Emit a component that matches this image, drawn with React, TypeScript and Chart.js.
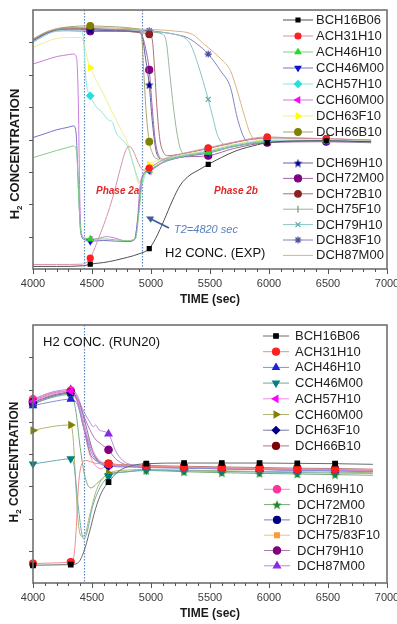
import React, { useEffect, useRef } from 'react';
import { Chart, registerables } from 'chart.js';
import { drawPoint } from 'chart.js/helpers';

Chart.register(...registerables);

const FONT = '"Liberation Sans", Arial, Helvetica, sans-serif';

// ---------- shared axis values ----------
const X_MIN = 4000;
const X_MAX = 7000;
const X_TICK_LABELS = [4000, 4500, 5000, 5500, 6000, 6500, 7000];
const Y_MIN = 0;
const Y_MAX = 8;

// ---------- TOP PANEL (experiment) ----------
const TOP_MARK_X = [4485, 4985, 5485, 5985, 6485];
const TOP_PHASE_LINES = [4430, 4925];
const TOP_NAMES = ['BCH16B06', 'ACH31H10', 'ACH46H10', 'CCH46M00', 'ACH57H10', 'CCH60M00', 'DCH63F10', 'DCH66B10',
  'DCH69H10', 'DCH72M00', 'DCH72B10', 'DCH75F10', 'DCH79H10', 'DCH83F10', 'DCH87M00'];

const T_BCH16B06: [number, number][] = [[4000,0.08],[4200,0.08],[4430,0.1],[4485,0.15],[4600,0.2],[4700,0.27],[4800,0.36],[4900,0.47],[4985,0.63],[5040,0.95],[5110,1.5],[5180,2.1],[5250,2.6],[5330,2.9],[5400,3.05],[5485,3.23],[5600,3.45],[5720,3.65],[5820,3.76],[5985,3.9],[6200,3.95],[6485,3.96],[6865,3.93]];
const T_ACH31H10: [number, number][] = [[4000,0.14],[4200,0.14],[4420,0.15],[4485,0.34],[4540,0.8],[4600,1.37],[4650,1.9],[4690,2.4],[4740,3.1],[4790,3.7],[4820,3.78],[4850,3.65],[4890,3.3],[4935,3.05],[4985,3.12],[5100,3.38],[5250,3.55],[5485,3.74],[5700,3.92],[5985,4.08],[6200,4.05],[6485,4.03],[6865,3.98]];
const T_ACH46H10: [number, number][] = [[4000,3.44],[4100,3.55],[4200,3.66],[4300,3.76],[4345,3.8],[4370,3.6],[4390,2.0],[4410,1.05],[4440,0.95],[4485,0.92],[4600,0.93],[4700,0.9],[4800,0.88],[4870,0.95],[4900,1.8],[4930,2.8],[4985,3.05],[5100,3.3],[5250,3.47],[5485,3.6],[5700,3.78],[5985,3.93],[6485,3.95],[6865,3.92]];
const T_CCH46M00: [number, number][] = [[4000,4.06],[4100,4.18],[4200,4.3],[4300,4.38],[4345,4.42],[4365,4.2],[4385,2.5],[4405,1.1],[4440,0.9],[4485,0.86],[4600,0.88],[4700,0.86],[4800,0.85],[4860,0.92],[4890,1.6],[4920,2.7],[4950,3.0],[4985,3.05],[5100,3.3],[5250,3.45],[5485,3.58],[5700,3.78],[5985,3.92],[6485,3.95],[6865,3.92]];
const T_ACH57H10: [number, number][] = [[4000,7.0],[4100,7.22],[4200,7.35],[4300,7.38],[4400,7.38],[4425,7.2],[4450,5.8],[4485,5.35],[4520,5.1],[4541,4.98],[4570,4.9],[4598,4.78],[4640,4.6],[4670,4.55],[4711,4.16],[4740,4.05],[4768,3.95],[4800,3.8],[4824,3.54],[4860,3.1],[4900,2.7],[4920,2.62],[4960,3.0],[4985,3.1],[5100,3.35],[5250,3.5],[5485,3.63],[5700,3.82],[5985,3.96],[6485,3.97],[6865,3.94]];
const T_CCH60M00: [number, number][] = [[4000,6.33],[4100,6.45],[4200,6.56],[4300,6.62],[4345,6.64],[4370,6.5],[4385,5.0],[4395,2.5],[4410,1.1],[4440,0.95],[4485,0.91],[4560,0.95],[4620,1.0],[4700,0.95],[4800,0.85],[4860,0.9],[4885,1.5],[4905,2.5],[4930,2.9],[4985,3.02],[5100,3.28],[5250,3.45],[5485,3.6],[5700,3.8],[5985,3.94],[6485,3.96],[6865,3.93]];
const T_DCH63F10: [number, number][] = [[4000,6.84],[4100,7.0],[4200,7.12],[4300,7.15],[4400,7.15],[4430,7.0],[4460,6.5],[4485,6.22],[4540,5.8],[4598,5.4],[4650,5.0],[4711,4.57],[4760,4.2],[4796,3.95],[4853,3.23],[4895,2.65],[4920,2.7],[4950,3.1],[4985,3.23],[5100,3.4],[5250,3.52],[5485,3.66],[5700,3.85],[5985,3.98],[6485,3.99],[6865,3.95]];
const T_DCH66B10: [number, number][] = [[4000,7.1],[4100,7.3],[4200,7.42],[4300,7.48],[4485,7.51],[4700,7.48],[4880,7.42],[4920,7.2],[4940,6.0],[4960,4.8],[4985,3.93],[5010,3.6],[5040,3.42],[5100,3.38],[5250,3.5],[5485,3.65],[5700,3.83],[5985,3.96],[6485,3.97],[6865,3.94]];
const T_DCH69H10: [number, number][] = [[4000,7.05],[4100,7.25],[4200,7.37],[4300,7.4],[4485,7.38],[4700,7.36],[4900,7.32],[4930,7.1],[4950,6.6],[4985,5.69],[5010,4.6],[5040,3.7],[5070,3.42],[5110,3.36],[5250,3.5],[5485,3.62],[5700,3.8],[5985,3.95],[6485,3.96],[6865,3.93]];
const T_DCH72M00: [number, number][] = [[4000,7.0],[4100,7.22],[4200,7.35],[4300,7.36],[4485,7.34],[4700,7.34],[4900,7.33],[4935,7.1],[4955,6.8],[4985,6.15],[5010,5.0],[5035,4.0],[5060,3.55],[5100,3.4],[5250,3.46],[5485,3.5],[5700,3.72],[5985,3.9],[6485,3.93],[6865,3.9]];
const T_DCH72B10: [number, number][] = [[4000,7.08],[4100,7.28],[4200,7.4],[4300,7.44],[4485,7.42],[4700,7.38],[4900,7.3],[4985,7.25],[5010,7.1],[5030,6.2],[5050,5.0],[5075,4.0],[5100,3.65],[5140,3.5],[5250,3.55],[5485,3.72],[5700,3.9],[5985,4.05],[6485,4.02],[6865,3.98]];
const T_DCH75F10: [number, number][] = [[4000,7.05],[4100,7.25],[4200,7.37],[4300,7.4],[4485,7.4],[4700,7.38],[4985,7.32],[5100,7.25],[5130,7.0],[5160,6.0],[5190,5.0],[5220,4.2],[5250,3.7],[5300,3.55],[5485,3.62],[5700,3.8],[5985,3.95],[6485,3.95],[6865,3.92]];
const T_DCH79H10: [number, number][] = [[4000,7.05],[4100,7.25],[4200,7.37],[4300,7.4],[4485,7.4],[4700,7.38],[4985,7.33],[5200,7.25],[5300,7.1],[5340,6.9],[5400,6.3],[5485,5.24],[5530,4.6],[5561,4.16],[5620,3.85],[5700,3.82],[5985,3.96],[6485,3.97],[6865,3.94]];
const T_DCH83F10: [number, number][] = [[4000,7.05],[4100,7.25],[4200,7.37],[4300,7.42],[4485,7.42],[4700,7.4],[4985,7.36],[5200,7.25],[5306,7.15],[5390,6.95],[5485,6.64],[5590,6.12],[5674,5.6],[5731,4.67],[5788,4.06],[5850,3.88],[5985,3.95],[6485,3.96],[6865,3.93]];
const T_DCH87M00: [number, number][] = [[4000,7.1],[4100,7.3],[4200,7.42],[4300,7.46],[4485,7.46],[4700,7.44],[4985,7.4],[5200,7.35],[5350,7.25],[5448,6.95],[5530,6.7],[5590,6.5],[5674,6.12],[5731,5.5],[5788,4.78],[5844,4.16],[5900,3.98],[5985,3.98],[6485,3.98],[6865,3.95]];

const TOP_VALUES = [T_BCH16B06, T_ACH31H10, T_ACH46H10, T_CCH46M00, T_ACH57H10, T_CCH60M00, T_DCH63F10, T_DCH66B10,
  T_DCH69H10, T_DCH72M00, T_DCH72B10, T_DCH75F10, T_DCH79H10, T_DCH83F10, T_DCH87M00];

// ---------- BOTTOM PANEL (RUN20) ----------
const BOT_MARK_X = [4000, 4320, 4640, 4960, 5280, 5600, 5920, 6240, 6560];
const BOT_PHASE_LINES = [4430];
const BOT_NAMES = ['BCH16B06', 'ACH31H10', 'ACH46H10', 'CCH46M00', 'ACH57H10', 'CCH60M00', 'DCH63F10', 'DCH66B10',
  'DCH69H10', 'DCH72M00', 'DCH72B10', 'DCH75/83F10', 'DCH79H10', 'DCH87M00'];

const B_BCH16B06: [number, number][] = [[4000,0.55],[4160,0.56],[4320,0.57],[4380,0.62],[4430,0.96],[4480,1.6],[4530,2.3],[4580,2.8],[4640,3.13],[4720,3.45],[4800,3.6],[4960,3.7],[5280,3.72],[5600,3.72],[5920,3.72],[6240,3.71],[6560,3.7],[6880,3.68]];
const B_ACH31H10: [number, number][] = [[4000,0.6],[4160,0.62],[4320,0.65],[4345,0.8],[4365,1.6],[4385,3.0],[4410,3.65],[4450,3.8],[4520,3.72],[4640,3.69],[4800,3.65],[4960,3.62],[5280,3.6],[5600,3.57],[5920,3.55],[6240,3.53],[6560,3.52],[6880,3.5]];
const B_ACH46H10: [number, number][] = [[4000,5.5],[4160,5.62],[4320,5.7],[4380,5.5],[4430,4.8],[4500,4.0],[4560,3.75],[4640,3.65],[4800,3.62],[4960,3.6],[5280,3.57],[5600,3.54],[5920,3.52],[6240,3.5],[6560,3.48],[6880,3.46]];
const B_CCH46M00: [number, number][] = [[4000,3.69],[4160,3.78],[4320,3.85],[4350,3.6],[4380,2.5],[4410,1.6],[4430,1.37],[4460,1.6],[4500,2.3],[4560,2.9],[4640,3.3],[4800,3.45],[4960,3.5],[5280,3.48],[5600,3.46],[5920,3.44],[6240,3.42],[6560,3.41],[6880,3.4]];
const B_ACH57H10: [number, number][] = [[4000,5.62],[4160,5.85],[4320,5.95],[4370,5.8],[4420,5.1],[4480,4.3],[4560,3.8],[4640,3.66],[4800,3.62],[4960,3.6],[5280,3.58],[5600,3.55],[5920,3.53],[6240,3.51],[6560,3.5],[6880,3.48]];
const B_CCH60M00: [number, number][] = [[4000,4.73],[4160,4.85],[4320,4.9],[4340,4.5],[4360,3.2],[4380,2.0],[4410,1.45],[4440,1.5],[4480,2.1],[4540,2.9],[4640,3.4],[4800,3.5],[4960,3.52],[5280,3.5],[5600,3.48],[5920,3.46],[6240,3.45],[6560,3.44],[6880,3.42]];
const B_DCH63F10: [number, number][] = [[4000,5.6],[4160,5.8],[4320,5.9],[4380,5.7],[4440,5.0],[4520,3.95],[4640,3.62],[4800,3.6],[4960,3.58],[5280,3.56],[5600,3.54],[5920,3.52],[6240,3.5],[6560,3.49],[6880,3.47]];
const B_DCH66B10: [number, number][] = [[4000,5.62],[4160,5.82],[4320,5.92],[4380,5.6],[4430,4.8],[4500,3.9],[4640,3.7],[4800,3.66],[4960,3.64],[5280,3.62],[5600,3.6],[5920,3.58],[6240,3.56],[6560,3.55],[6880,3.53]];
const B_DCH69H10: [number, number][] = [[4000,5.7],[4160,5.9],[4320,5.97],[4370,5.7],[4420,5.0],[4480,4.0],[4540,3.6],[4580,3.55],[4640,3.69],[4800,3.64],[4960,3.62],[5280,3.58],[5600,3.55],[5920,3.53],[6240,3.5],[6560,3.49],[6880,3.47]];
const B_DCH72M00: [number, number][] = [[4000,5.55],[4160,5.75],[4320,5.85],[4360,5.4],[4400,4.2],[4440,3.3],[4490,2.95],[4560,3.15],[4640,3.38],[4800,3.45],[4960,3.49],[5280,3.45],[5600,3.42],[5920,3.4],[6240,3.38],[6560,3.36],[6880,3.34]];
const B_DCH72B10: [number, number][] = [[4000,5.55],[4160,5.78],[4320,5.88],[4380,5.6],[4450,4.6],[4540,3.85],[4640,3.65],[4800,3.62],[4960,3.6],[5280,3.58],[5600,3.55],[5920,3.52],[6240,3.5],[6560,3.48],[6880,3.46]];
const B_DCH7583F10: [number, number][] = [[4000,5.6],[4160,5.8],[4320,5.9],[4390,5.5],[4460,4.6],[4540,3.9],[4640,3.7],[4800,3.64],[4960,3.6],[5280,3.58],[5600,3.55],[5920,3.53],[6240,3.51],[6560,3.49],[6880,3.47]];
const B_DCH79H10: [number, number][] = [[4000,5.65],[4160,5.88],[4320,5.95],[4380,5.7],[4440,5.1],[4520,4.5],[4580,4.3],[4640,4.13],[4700,3.85],[4780,3.68],[4960,3.62],[5280,3.58],[5600,3.55],[5920,3.53],[6240,3.5],[6560,3.49],[6880,3.47]];
const B_DCH87M00: [number, number][] = [[4000,5.7],[4160,5.92],[4320,6.0],[4370,5.85],[4420,5.4],[4480,5.0],[4510,4.85],[4530,4.9],[4560,4.75],[4640,4.62],[4700,4.1],[4760,3.8],[4850,3.66],[4960,3.64],[5280,3.6],[5600,3.57],[5920,3.55],[6240,3.53],[6560,3.51],[6880,3.49]];

const BOT_VALUES = [B_BCH16B06, B_ACH31H10, B_ACH46H10, B_CCH46M00, B_ACH57H10, B_CCH60M00, B_DCH63F10, B_DCH66B10,
  B_DCH69H10, B_DCH72M00, B_DCH72B10, B_DCH7583F10, B_DCH79H10, B_DCH87M00];

// ---------- styles ----------
function makeStar(color: string, size = 10): HTMLCanvasElement {
  const c = document.createElement('canvas');
  c.width = size; c.height = size;
  const g = c.getContext('2d')!;
  g.fillStyle = color;
  g.beginPath();
  for (let i = 0; i < 10; i++) {
    const r = i % 2 === 0 ? size / 2 : size / 4.6;
    const a = -Math.PI / 2 + (i * Math.PI) / 5;
    g.lineTo(size / 2 + r * Math.cos(a), size / 2 + 0.5 + r * Math.sin(a));
  }
  g.closePath();
  g.fill();
  return c;
}

type Sty = { line: string; mark: string; style: any; rot: number; r: number };

function topStyles(): Sty[] {
  return [
    { line: '#505050', mark: '#000000', style: 'rect', rot: 0, r: 2.8 },
    { line: '#d890a8', mark: '#ff2020', style: 'circle', rot: 0, r: 3 },
    { line: '#80d080', mark: '#22dd22', style: 'triangle', rot: 0, r: 3.3 },
    { line: '#7474c4', mark: '#1010cc', style: 'triangle', rot: 180, r: 3.3 },
    { line: '#90e4dc', mark: '#22e0e0', style: 'rectRot', rot: 0, r: 3.5 },
    { line: '#cc7ade', mark: '#ff00ff', style: 'triangle', rot: 270, r: 3.3 },
    { line: '#eeee90', mark: '#ffff00', style: 'triangle', rot: 90, r: 3.3 },
    { line: '#aaa474', mark: '#808000', style: 'circle', rot: 0, r: 3.3 },
    { line: '#6464a4', mark: '#000080', style: makeStar('#000080', 9), rot: 0, r: 3.5 },
    { line: '#a464a4', mark: '#800080', style: 'circle', rot: 0, r: 3.5 },
    { line: '#a87272', mark: '#8b2020', style: 'circle', rot: 0, r: 3.3 },
    { line: '#9cb49c', mark: '#7f907f', style: 'line', rot: 90, r: 3.5 },
    { line: '#8cc4c4', mark: '#5aa8a8', style: 'crossRot', rot: 0, r: 3.5 },
    { line: '#8484bc', mark: '#5050a0', style: 'star', rot: 0, r: 3.5 },
    { line: '#dab282', mark: '#dab282', style: 'circle', rot: 0, r: 0 },
  ];
}

function botStyles(): Sty[] {
  return [
    { line: '#6a6a6a', mark: '#000000', style: 'rect', rot: 0, r: 3.2 },
    { line: '#ee8c8c', mark: '#ff2020', style: 'circle', rot: 0, r: 3.5 },
    { line: '#8a8ae0', mark: '#2020dd', style: 'triangle', rot: 0, r: 3.8 },
    { line: '#6aacac', mark: '#008080', style: 'triangle', rot: 180, r: 3.8 },
    { line: '#ee8cee', mark: '#ff00ff', style: 'triangle', rot: 270, r: 3.8 },
    { line: '#b4b474', mark: '#808000', style: 'triangle', rot: 90, r: 3.8 },
    { line: '#7a7aae', mark: '#000080', style: 'rectRot', rot: 0, r: 3.7 },
    { line: '#ae7a7a', mark: '#800000', style: 'circle', rot: 0, r: 3.5 },
    { line: '#ee8cbe', mark: '#ff3399', style: 'circle', rot: 0, r: 3.7 },
    { line: '#7aac7a', mark: '#228b22', style: makeStar('#228b22', 10), rot: 0, r: 4 },
    { line: '#7a7abe', mark: '#000080', style: 'circle', rot: 0, r: 3.5 },
    { line: '#eebe8c', mark: '#ff9933', style: 'rect', rot: 0, r: 3.3 },
    { line: '#ae7aae', mark: '#800080', style: 'circle', rot: 0, r: 3.7 },
    { line: '#b48ce0', mark: '#8a2be2', style: 'triangle', rot: 0, r: 4 },
  ];
}

type LegendGroup = { start: number; count: number; lx0: number; lx1: number; mx: number; tx: number; y0: number; dy: number };

type PanelCfg = {
  names: string[];
  values: [number, number][][];
  styles: Sty[];
  marks: number[];
  phaseLines: number[];
  padding: { left: number; top: number; right: number; bottom: number };
  legend: LegendGroup[];
  yTitleCenter: number;
  yTitleSize: number;
  extra: (ctx: CanvasRenderingContext2D, chart: any) => void;
};

function drawYTitle(ctx: CanvasRenderingContext2D, cx: number, cy: number, size: number) {
  ctx.save();
  ctx.translate(cx, cy);
  ctx.rotate(-Math.PI / 2);
  ctx.fillStyle = '#1a1a1a';
  ctx.textBaseline = 'middle';
  ctx.textAlign = 'left';
  const big = `bold ${size}px ${FONT}`;
  const small = `bold ${Math.round(size * 0.65)}px ${FONT}`;
  ctx.font = big;
  const wH = ctx.measureText('H').width;
  const wRest = ctx.measureText(' CONCENTRATION').width;
  ctx.font = small;
  const w2 = ctx.measureText('2').width;
  const total = wH + w2 + wRest;
  let x = -total / 2;
  ctx.font = big;
  ctx.fillText('H', x, 0);
  x += wH;
  ctx.font = small;
  ctx.fillText('2', x, size * 0.35);
  x += w2;
  ctx.font = big;
  ctx.fillText(' CONCENTRATION', x, 0);
  ctx.restore();
}

function makePlugin(cfg: PanelCfg) {
  return {
    id: 'panelDecor',
    beforeDatasetsDraw(chart: any) {
      const { ctx, chartArea: a, scales } = chart;
      ctx.save();
      ctx.strokeStyle = '#5f88c4';
      ctx.lineWidth = 1.2;
      ctx.setLineDash([1.5, 1.5]);
      for (const v of cfg.phaseLines) {
        const px = Math.round(scales.x.getPixelForValue(v)) + 0.5;
        ctx.beginPath();
        ctx.moveTo(px, a.top);
        ctx.lineTo(px, a.bottom);
        ctx.stroke();
      }
      ctx.restore();
    },
    afterDraw(chart: any) {
      const { ctx, chartArea: a, scales } = chart;
      const xs = scales.x;
      const ys = scales.y;
      ctx.save();
      // frame
      ctx.strokeStyle = '#707070';
      ctx.lineWidth = 1.6;
      ctx.strokeRect(a.left, a.top, a.right - a.left, a.bottom - a.top);
      // x ticks
      ctx.strokeStyle = '#555';
      ctx.lineWidth = 1;
      for (let v = X_MIN; v <= X_MAX; v += 100) {
        const px = Math.round(xs.getPixelForValue(v)) + 0.5;
        const major = v % 500 === 0;
        ctx.beginPath();
        ctx.moveTo(px, a.bottom);
        ctx.lineTo(px, a.bottom + (major ? 5 : 3));
        ctx.stroke();
      }
      // y ticks
      for (let v = Y_MIN + 1; v < Y_MAX; v += 1) {
        const py = Math.round(ys.getPixelForValue(v)) + 0.5;
        ctx.beginPath();
        ctx.moveTo(a.left - 4, py);
        ctx.lineTo(a.left, py);
        ctx.stroke();
      }
      // x tick labels
      ctx.fillStyle = '#3a3a3a';
      ctx.font = `11px ${FONT}`;
      ctx.textAlign = 'center';
      ctx.textBaseline = 'middle';
      for (const v of X_TICK_LABELS) {
        ctx.fillText(String(v), xs.getPixelForValue(v), a.bottom + 15);
      }
      // x title
      ctx.fillStyle = '#1a1a1a';
      ctx.font = `bold 12px ${FONT}`;
      ctx.fillText('TIME (sec)', (a.left + a.right) / 2, a.bottom + 31);
      ctx.restore();

      drawYTitle(ctx, 15, cfg.yTitleCenter, cfg.yTitleSize);

      // legend
      ctx.save();
      ctx.font = `13px ${FONT}`;
      ctx.textAlign = 'left';
      ctx.textBaseline = 'middle';
      for (const g of cfg.legend) {
        for (let k = 0; k < g.count; k++) {
          const i = g.start + k;
          const s = cfg.styles[i];
          const y = g.y0 + k * g.dy;
          ctx.strokeStyle = s.line;
          ctx.lineWidth = 1;
          ctx.beginPath();
          ctx.moveTo(g.lx0, y);
          ctx.lineTo(g.lx1, y);
          ctx.stroke();
          ctx.fillStyle = s.mark;
          ctx.strokeStyle = s.mark;
          ctx.lineWidth = 1.2;
          if (s.r > 0) drawPoint(ctx, { pointStyle: s.style, rotation: s.rot, radius: s.r, borderWidth: 1.2 } as any, g.mx, y);
          ctx.fillStyle = '#1e1e1e';
          ctx.fillText(cfg.names[i], g.tx, y + 0.5);
        }
      }
      ctx.restore();

      ctx.save();
      cfg.extra(ctx, chart);
      ctx.restore();
    },
  };
}

function buildConfig(cfg: PanelCfg): any {
  const datasets = cfg.values.map((vals, i) => {
    const s = cfg.styles[i];
    return {
      label: cfg.names[i],
      data: vals.map(([x, y]) => ({ x, y })),
      borderColor: s.line,
      borderWidth: 1,
      backgroundColor: s.mark,
      pointBackgroundColor: s.mark,
      pointBorderColor: s.mark,
      pointBorderWidth: 1.2,
      pointStyle: s.style,
      pointRotation: s.rot,
      pointRadius: (c: any) => (c.raw && cfg.marks.includes(c.raw.x) ? s.r : 0),
      pointHoverRadius: 0,
      cubicInterpolationMode: 'monotone',
      fill: false,
      clip: false,
    };
  });
  return {
    type: 'line',
    data: { datasets },
    options: {
      animation: false,
      responsive: false,
      devicePixelRatio: 1,
      events: [],
      layout: { padding: cfg.padding },
      plugins: { legend: { display: false }, tooltip: { enabled: false }, title: { display: false } },
      scales: {
        x: { type: 'linear', min: X_MIN, max: X_MAX, display: false },
        y: { type: 'linear', min: Y_MIN, max: Y_MAX, display: false },
      },
    },
    plugins: [makePlugin(cfg)],
  };
}

function topExtra(ctx: CanvasRenderingContext2D) {
  ctx.textBaseline = 'middle';
  ctx.textAlign = 'left';
  ctx.fillStyle = '#e02828';
  ctx.font = `italic bold 10px ${FONT}`;
  ctx.fillText('Phase 2a', 96, 191);
  ctx.fillText('Phase 2b', 214, 191);
  ctx.fillStyle = '#5a7fbf';
  ctx.font = `italic 11px ${FONT}`;
  ctx.fillText('T2=4820 sec', 174, 230);
  // arrow
  ctx.strokeStyle = '#3d5f98';
  ctx.fillStyle = '#3d5f98';
  ctx.lineWidth = 1.6;
  const x0 = 169, y0 = 228, x1 = 146, y1 = 216.5;
  ctx.beginPath();
  ctx.moveTo(x0, y0);
  ctx.lineTo(x1 + 4, y1 + 2);
  ctx.stroke();
  const ang = Math.atan2(y1 - y0, x1 - x0);
  ctx.beginPath();
  ctx.moveTo(x1, y1);
  ctx.lineTo(x1 - 8 * Math.cos(ang - 0.45), y1 - 8 * Math.sin(ang - 0.45));
  ctx.lineTo(x1 - 8 * Math.cos(ang + 0.45), y1 - 8 * Math.sin(ang + 0.45));
  ctx.closePath();
  ctx.fill();
  ctx.fillStyle = '#111';
  ctx.font = `13px ${FONT}`;
  ctx.fillText('H2 CONC. (EXP)', 165, 253);
}

function botExtra(ctx: CanvasRenderingContext2D) {
  ctx.textBaseline = 'middle';
  ctx.textAlign = 'left';
  ctx.fillStyle = '#111';
  ctx.font = `13px ${FONT}`;
  ctx.fillText('H2 CONC. (RUN20)', 43, 30);
}

function Panel({ make, top }: { make: () => PanelCfg; top: number }) {
  const ref = useRef<HTMLCanvasElement>(null);
  useEffect(() => {
    const chart = new Chart(ref.current as HTMLCanvasElement, buildConfig(make()));
    return () => chart.destroy();
  }, []);
  return (
    <canvas
      ref={ref}
      width={397}
      height={312}
      style={{ position: 'absolute', left: 0, top, width: 397, height: 312, display: 'block' }}
    />
  );
}

const makeTop = (): PanelCfg => ({
  names: TOP_NAMES,
  values: TOP_VALUES,
  styles: topStyles(),
  marks: TOP_MARK_X,
  phaseLines: TOP_PHASE_LINES,
  padding: { left: 33, top: 10, right: 10, bottom: 43 },
  legend: [
    { start: 0, count: 8, lx0: 283, lx1: 313, mx: 298, tx: 316, y0: 20, dy: 16 },
    { start: 8, count: 7, lx0: 283, lx1: 313, mx: 298, tx: 316, y0: 163, dy: 15.4 },
  ],
  yTitleCenter: 154,
  yTitleSize: 13,
  extra: topExtra,
});

const makeBottom = (): PanelCfg => ({
  names: BOT_NAMES,
  values: BOT_VALUES,
  styles: botStyles(),
  marks: BOT_MARK_X,
  phaseLines: BOT_PHASE_LINES,
  padding: { left: 33, top: 13, right: 10, bottom: 41 },
  legend: [
    { start: 0, count: 8, lx0: 263, lx1: 289, mx: 276, tx: 295, y0: 24, dy: 15.7 },
    { start: 8, count: 6, lx0: 264, lx1: 290, mx: 277, tx: 297, y0: 177.3, dy: 15.3 },
  ],
  yTitleCenter: 150,
  yTitleSize: 12,
  extra: botExtra,
});

export default function App() {
  return (
    <div style={{ position: 'absolute', left: 0, top: 0, width: 397, height: 624, background: '#fff' }}>
      <Panel make={makeTop} top={0} />
      <Panel make={makeBottom} top={312} />
    </div>
  );
}
